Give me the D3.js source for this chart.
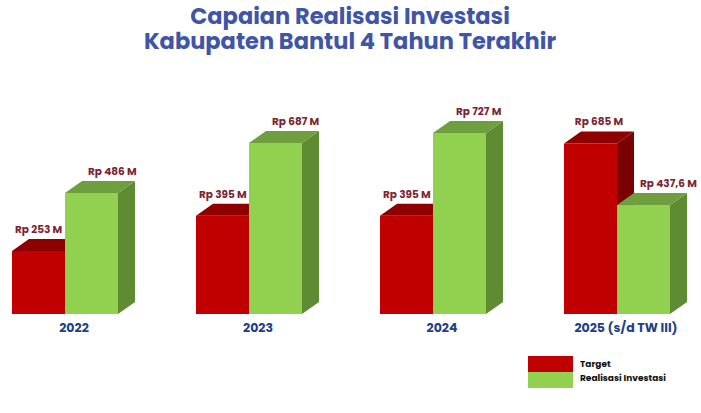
<!DOCTYPE html>
<html><head><meta charset="utf-8">
<script src="https://cdn.jsdelivr.net/npm/d3@7"></script>
<style>body{margin:0;background:#fff}svg{display:block}text{font-family:Poppins,Inter,"Open Sans",sans-serif}</style>
</head><body><svg id="c" width="701" height="413"></svg>
<script>
const categories = ["2022","2023","2024","2025 (s/d TW III)"];
const seriesNames = ["Target","Realisasi Investasi"];
const targetValues = [253,395,395,685];
const realisasiValues = [486,687,727,437.6];
const targetLabels = ["Rp 253 M","Rp 395 M","Rp 395 M","Rp 685 M"];
const realisasiLabels = ["Rp 486 M","Rp 687 M","Rp 727 M","Rp 437,6 M"];
const titleLines = ["Capaian Realisasi Investasi","Kabupaten Bantul 4 Tahun Terakhir"];

const colors = {
  Target:{front:"#c00000",top:"#8e0000",side:"#7a0000"},
  "Realisasi Investasi":{front:"#92d050",top:"#6f9e3f",side:"#5f8c33"}
};
const svg = d3.select("#c");
const dx = 17, dy = 12;
const x = d3.scaleBand().domain(categories).range([12, 12+4*184]);
const xs = d3.scaleBand().domain(seriesNames).range([0,106]);
const y = d3.scaleLinear().domain([0,727]).range([314,133]);
const w = xs.bandwidth();

svg.selectAll(".t").data(titleLines).join("text")
  .attr("x",350).attr("y",(d,i)=>24+i*24.5).attr("text-anchor","middle")
  .attr("font-size",22.5).attr("font-weight",700).attr("fill","#3f55a5").text(d=>d);

const rows = categories.map((c,i)=>({c, vals:[
  {s:"Target", v:targetValues[i], l:targetLabels[i]},
  {s:"Realisasi Investasi", v:realisasiValues[i], l:realisasiLabels[i]}]}));

const g = svg.selectAll(".grp").data(rows).join("g").attr("transform",d=>`translate(${x(d.c)},0)`);
g.each(function(d){
  const gg = d3.select(this);
  d.vals.forEach(b=>{
    const x0 = xs(b.s), x1 = x0+w, yt = y(b.v), yb = y(0);
    const col = colors[b.s];
    gg.append("path").attr("fill",col.side)
      .attr("d",`M${x1},${yt}L${x1+dx},${yt-dy}L${x1+dx},${yb-dy}L${x1},${yb}Z`);
    gg.append("path").attr("fill",col.top)
      .attr("d",`M${x0},${yt}L${x0+dx},${yt-dy}L${x1+dx},${yt-dy}L${x1},${yt}Z`);
    gg.append("rect").attr("x",x0).attr("y",yt).attr("width",w).attr("height",yb-yt).attr("fill",col.front);
  });
  const taller = d.vals[0].v > d.vals[1].v;
  d.vals.forEach(b=>{
    const x0 = xs(b.s), yt = y(b.v);
    const isT = b.s==="Target";
    const t = gg.append("text").attr("y", yt-dy-6)
      .attr("font-size",10.5).attr("font-weight",700).attr("fill","#7b2434").text(b.l);
    if (isT && taller) t.attr("x", x0+(w+dx)/2).attr("text-anchor","middle");
    else if (isT) t.attr("x", x0+3);
    else t.attr("x", x0+23);
  });
  gg.append("text").attr("x",62).attr("y",332).attr("text-anchor","middle")
    .attr("font-size",12.5).attr("font-weight",700).attr("fill","#1f3f86").text(d.c);
});

const lg = svg.append("g").attr("transform","translate(528,356)");
seriesNames.forEach((s,i)=>{
  lg.append("rect").attr("x",0).attr("y",i*16).attr("width",45).attr("height",16).attr("fill",colors[s].front);
  lg.append("text").attr("x",52).attr("y",11+i*14).attr("font-size",9).attr("font-weight",700).attr("fill","#111").text(s);
});
</script></body></html>
